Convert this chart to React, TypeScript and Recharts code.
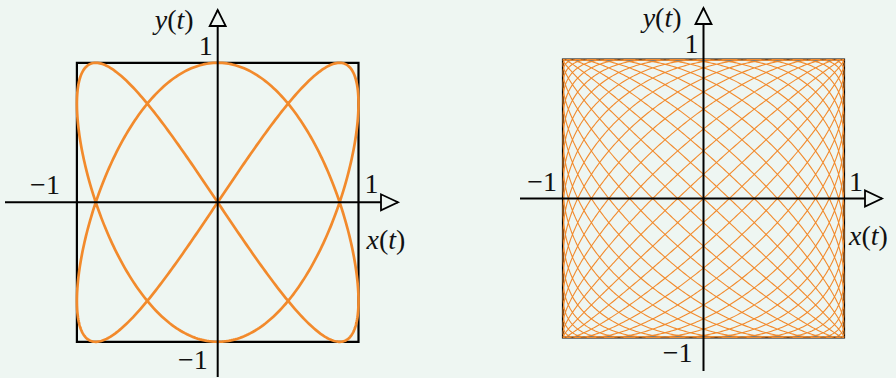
import { LineChart, Line, XAxis, YAxis, ReferenceArea, ReferenceLine, ReferenceDot } from 'recharts';

// Lissajous figures: x(t) = sin(a t + phase_x), y(t) = sin(b t + phase_y)
const leftFreq = [2, 3];
const leftPhase = [0, 90];
const rightFreq = [18, 17];
const rightPhase = [0, 0];
const tickValues = [-1, 1];
const axisNames = ['x', 'y'];

const BG = '#eef6f2';
const ORANGE = '#f28a2c';
const FONT = '"Liberation Serif", "DejaVu Serif", serif';

const sample = (freq: number[], phase: number[], n: number) => {
  const pts: { x: number; y: number }[] = [];
  const px = (phase[0] * Math.PI) / 180;
  const py = (phase[1] * Math.PI) / 180;
  for (let i = 0; i <= n; i++) {
    const t = (2 * Math.PI * i) / n;
    pts.push({ x: Math.sin(freq[0] * t + px), y: Math.sin(freq[1] * t + py) });
  }
  return pts;
};

const leftData = sample(leftFreq, leftPhase, 800);
const rightData = sample(rightFreq, rightPhase, 8000);

type Layout = {
  frameLeft: number; frameWidth: number;
  left: number; right: number; top: number; bottom: number;
  cx: number; cy: number; ux: number; uy: number;
  // label offsets in px: [dx, dy]
  minusX: number[]; plusX: number[]; minusY: number[]; plusY: number[]; nameX: number[]; nameY: number[];
};

const leftLayout: Layout = {
  frameLeft: 0, frameWidth: 448,
  left: 5, right: 398, top: 10, bottom: 377,
  cx: 217.7, cy: 202.3, ux: 140.8, uy: 139.5,
  minusX: [-17, -8], plusX: [6, -9], minusY: [-10, 27], plusY: [-5, -8], nameX: [8, 47], nameY: [-24, 19],
};

const rightLayout: Layout = {
  frameLeft: 448, frameWidth: 448,
  left: 520, right: 882, top: 8, bottom: 371,
  cx: 703.5, cy: 198.5, ux: 140.5, uy: 139,
  minusX: [-6, -8], plusX: [5, -8], minusY: [-11, 24], plusY: [-5, -7], nameX: [5, 46], nameY: [-22, 19],
};

const textStyle = { fontFamily: FONT, fontSize: 28, fill: '#111' };

const mathText = (name: string, dx: number, dy: number, anchor: 'start' | 'end') => (props: any) => (
  <text x={props.cx + dx} y={props.cy + dy} textAnchor={anchor} style={textStyle}>
    <tspan style={{ fontStyle: 'italic' }}>{name}</tspan>(<tspan style={{ fontStyle: 'italic' }}>t</tspan>)
  </text>
);

const numText = (v: number, dx: number, dy: number, anchor: 'start' | 'end') => (props: any) => (
  <text x={props.cx + dx} y={props.cy + dy} textAnchor={anchor} style={textStyle}>
    {v < 0 ? '\u2212' + Math.abs(v) : String(v)}
  </text>
);

const arrowRight = (props: any) => (
  <path
    d={`M${props.cx},${props.cy} L${props.cx - 17},${props.cy - 8} L${props.cx - 17},${props.cy + 8} Z`}
    fill={BG} stroke="#000" strokeWidth={1.8} strokeLinejoin="miter"
  />
);

const arrowUp = (props: any) => (
  <path
    d={`M${props.cx},${props.cy} L${props.cx - 8},${props.cy + 16} L${props.cx + 8},${props.cy + 16} Z`}
    fill={BG} stroke="#000" strokeWidth={1.8} strokeLinejoin="miter"
  />
);

const Plot = ({ data, layout, lineWidth }: { data: { x: number; y: number }[]; layout: Layout; lineWidth: number }) => {
  const L = layout;
  const xDomain = [(L.left - L.cx) / L.ux, (L.right - L.cx) / L.ux];
  const yDomain = [(L.cy - L.bottom) / L.uy, (L.cy - L.top) / L.uy];
  const [lo, hi] = tickValues;
  const margin = {
    top: L.top,
    bottom: 378 - L.bottom,
    left: L.left - L.frameLeft,
    right: L.frameLeft + L.frameWidth - L.right,
  };
  return (
    <div style={{ position: 'absolute', left: L.frameLeft, top: 0 }}>
      <LineChart width={L.frameWidth} height={378} data={data} margin={margin}>
        <XAxis type="number" dataKey="x" domain={xDomain} allowDataOverflow hide />
        <YAxis type="number" domain={yDomain} allowDataOverflow hide />
        <Line
          type="linear"
          dataKey="y"
          stroke={ORANGE}
          strokeWidth={lineWidth}
          dot={false}
          activeDot={false}
          isAnimationActive={false}
        />
        <ReferenceArea x1={lo} x2={hi} y1={lo} y2={hi} fill="none" fillOpacity={0} stroke="#000" strokeWidth={2.2} ifOverflow="visible" />
        <ReferenceLine y={0} stroke="#000" strokeWidth={2} ifOverflow="visible" />
        <ReferenceLine x={0} stroke="#000" strokeWidth={2} ifOverflow="visible" />
        <ReferenceDot x={xDomain[1]} y={0} ifOverflow="visible" shape={arrowRight} />
        <ReferenceDot x={0} y={yDomain[1]} ifOverflow="visible" shape={arrowUp} />
        <ReferenceDot x={lo} y={0} ifOverflow="visible" shape={numText(lo, L.minusX[0], L.minusX[1], 'end')} />
        <ReferenceDot x={hi} y={0} ifOverflow="visible" shape={numText(hi, L.plusX[0], L.plusX[1], 'start')} />
        <ReferenceDot x={0} y={lo} ifOverflow="visible" shape={numText(lo, L.minusY[0], L.minusY[1], 'end')} />
        <ReferenceDot x={0} y={hi} ifOverflow="visible" shape={numText(hi, L.plusY[0], L.plusY[1], 'end')} />
        <ReferenceDot x={hi} y={0} ifOverflow="visible" shape={mathText(axisNames[0], L.nameX[0], L.nameX[1], 'start')} />
        <ReferenceDot x={0} y={yDomain[1]} ifOverflow="visible" shape={mathText(axisNames[1], L.nameY[0], L.nameY[1], 'end')} />
      </LineChart>
    </div>
  );
};

export default function App() {
  return (
    <div style={{ position: 'absolute', left: 0, top: 0, width: 896, height: 378, background: BG, overflow: 'hidden' }}>
      <Plot data={leftData} layout={leftLayout} lineWidth={2.7} />
      <Plot data={rightData} layout={rightLayout} lineWidth={1.1} />
    </div>
  );
}
